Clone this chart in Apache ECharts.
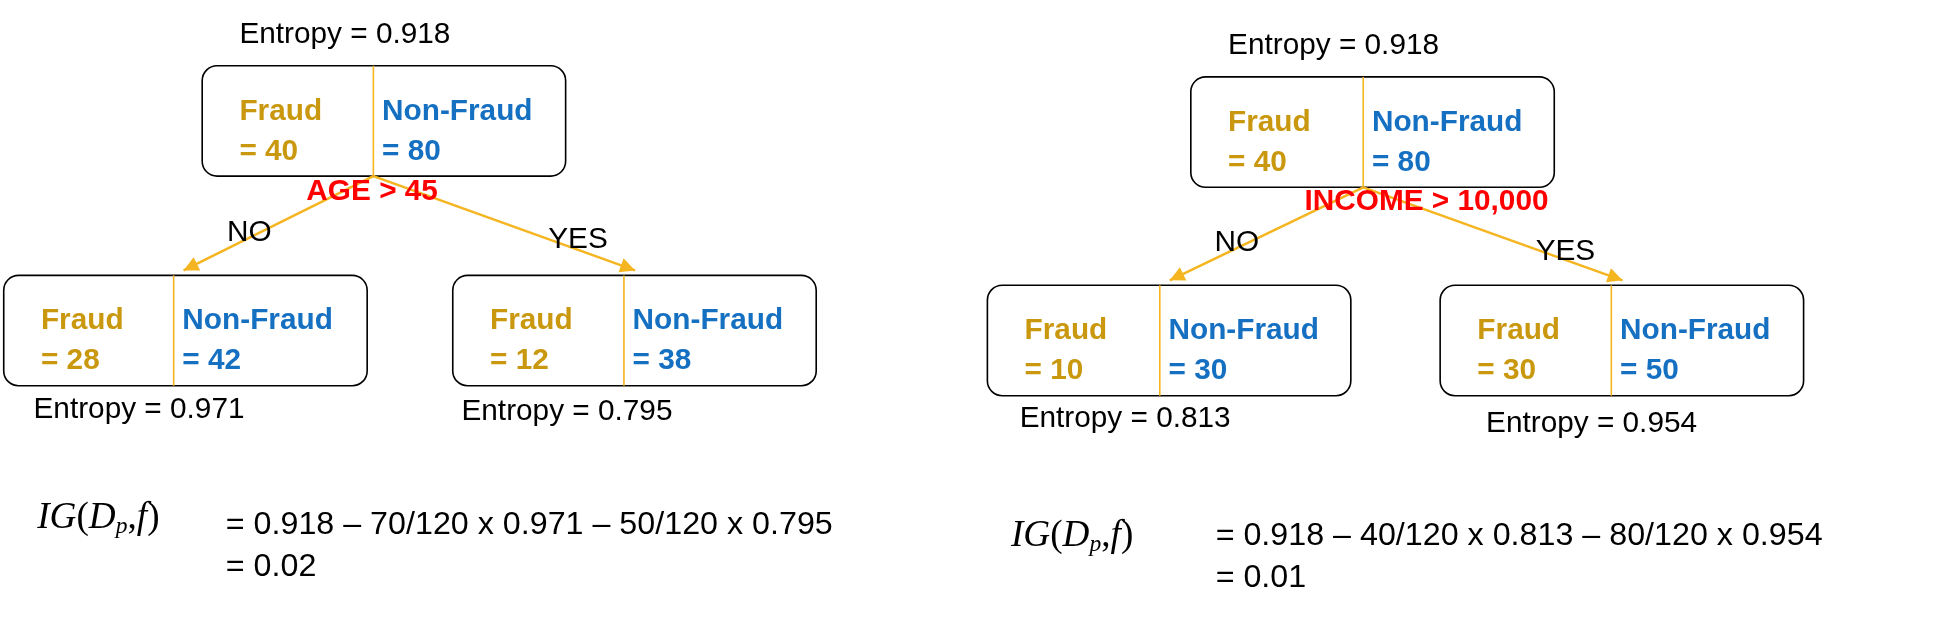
<!DOCTYPE html>
<html><head><meta charset="utf-8">
<script src="https://cdn.jsdelivr.net/npm/echarts@6/dist/echarts.min.js"></script>
<style>html,body{margin:0;background:#fff}#c{width:1945px;height:625px}</style>
</head><body><div id="c"></div>
<script>
// data
const nodeFraud    = [40, 28, 12, 40, 10, 30];
const nodeNonFraud = [80, 42, 38, 80, 30, 50];
const nodeEntropy  = ['0.918','0.971','0.795','0.918','0.813','0.954'];
const splitLabels  = ['AGE > 45', 'INCOME > 10,000'];
const branchLabels = ['NO', 'YES'];
const igFormulas   = ['= 0.918 – 70/120 x 0.971 – 50/120 x 0.795', '= 0.918 – 40/120 x 0.813 – 80/120 x 0.954'];
const igResults    = ['= 0.02', '= 0.01'];

// layout (positions only, in a 1568-wide frame scaled to the page)
const S = 1945/1568;
const boxes = [ // x, y, divider x, entropy label x, y
  [163,53,301,193,28],[3,222,140,27,330],[365,222,503,372,332],
  [960,62,1099,990,37],[796,230,935,822,338],[1161,230,1299,1198,342]];
const W = 293, H = 89;
const trees = [
  {root:0, kids:[1,2], split:[300,155], br:[[201,188],[466,193]], ig:[30,418], f:[182,423], r:[182,457]},
  {root:3, kids:[4,5], split:[1150,163], br:[[997,196],[1262,203]], ig:[815,432], f:[980,432], r:[980,466]}];
const GOLD='#C9980F', BLUE='#1670C2', ORANGE='#F5B520';
const font = 'Liberation Sans, Arial, sans-serif';
const g = [];
function txt(x,y,s,style){g.push({type:'text',x,y,style:Object.assign({text:s,fill:'#000',font:'24px '+font,textVerticalAlign:'middle'},style)});}
boxes.forEach((b,i)=>{
  const [x,y,d,ex,ey]=b;
  g.push({type:'rect',shape:{x,y,width:W,height:H,r:12},style:{fill:'#fff',stroke:'#000',lineWidth:1.3}});
  g.push({type:'line',shape:{x1:d,y1:y,x2:d,y2:y+H},style:{stroke:ORANGE,lineWidth:1.3}});
  const bf={font:'bold 24px '+font};
  txt(x+30,y+37,'Fraud',Object.assign({fill:GOLD},bf));
  txt(x+30,y+69,'= '+nodeFraud[i],Object.assign({fill:GOLD},bf));
  txt(d+7,y+37,'Non-Fraud',Object.assign({fill:BLUE},bf));
  txt(d+7,y+69,'= '+nodeNonFraud[i],Object.assign({fill:BLUE},bf));
  txt(ex,ey,'Entropy = '+nodeEntropy[i]);
});
trees.forEach((t,ti)=>{
  const rb=boxes[t.root];
  const sx=rb[2], sy=rb[1]+H;
  t.kids.forEach((k,j)=>{
    const kb=boxes[k];
    const ex=j===0?kb[2]+8:kb[2]+9, ey=kb[1]-4;
    g.push({type:'line',shape:{x1:sx,y1:sy,x2:ex,y2:ey},style:{stroke:ORANGE,lineWidth:2}});
    const a=Math.atan2(ey-sy,ex-sx), L=12, w=6;
    const bx=ex-L*Math.cos(a), by=ey-L*Math.sin(a);
    g.push({type:'polygon',shape:{points:[[ex,ey],[bx+w*Math.sin(a),by-w*Math.cos(a)],[bx-w*Math.sin(a),by+w*Math.cos(a)]]},style:{fill:ORANGE}});
    txt(t.br[j][0],t.br[j][1],branchLabels[j],{textAlign:'center'});
  });
  txt(t.split[0],t.split[1],splitLabels[ti],{fill:'#FF0000',font:'bold 24px '+font,textAlign:'center'});
  g.push({type:'text',x:t.ig[0],y:t.ig[1],style:{rich:{i:{fontFamily:'Liberation Serif, Times New Roman, serif',fontStyle:'italic',fontSize:30},s:{fontFamily:'Liberation Serif, serif',fontStyle:'italic',fontSize:19,verticalAlign:'bottom',padding:[14,0,0,0]},n:{fontFamily:'Liberation Serif, serif',fontSize:30}},text:'{i|IG}{n|(}{i|D}{s|p}{n|,}{i|f}{n|)}',textVerticalAlign:'middle'}});
  txt(t.f[0],t.f[1],igFormulas[ti],{font:'26px '+font});
  txt(t.r[0],t.r[1],igResults[ti],{font:'26px '+font});
});
const chart=echarts.init(document.getElementById('c'));
chart.setOption({animation:false,graphic:[{type:'group',scaleX:S,scaleY:S,children:g}]});
</script></body></html>
